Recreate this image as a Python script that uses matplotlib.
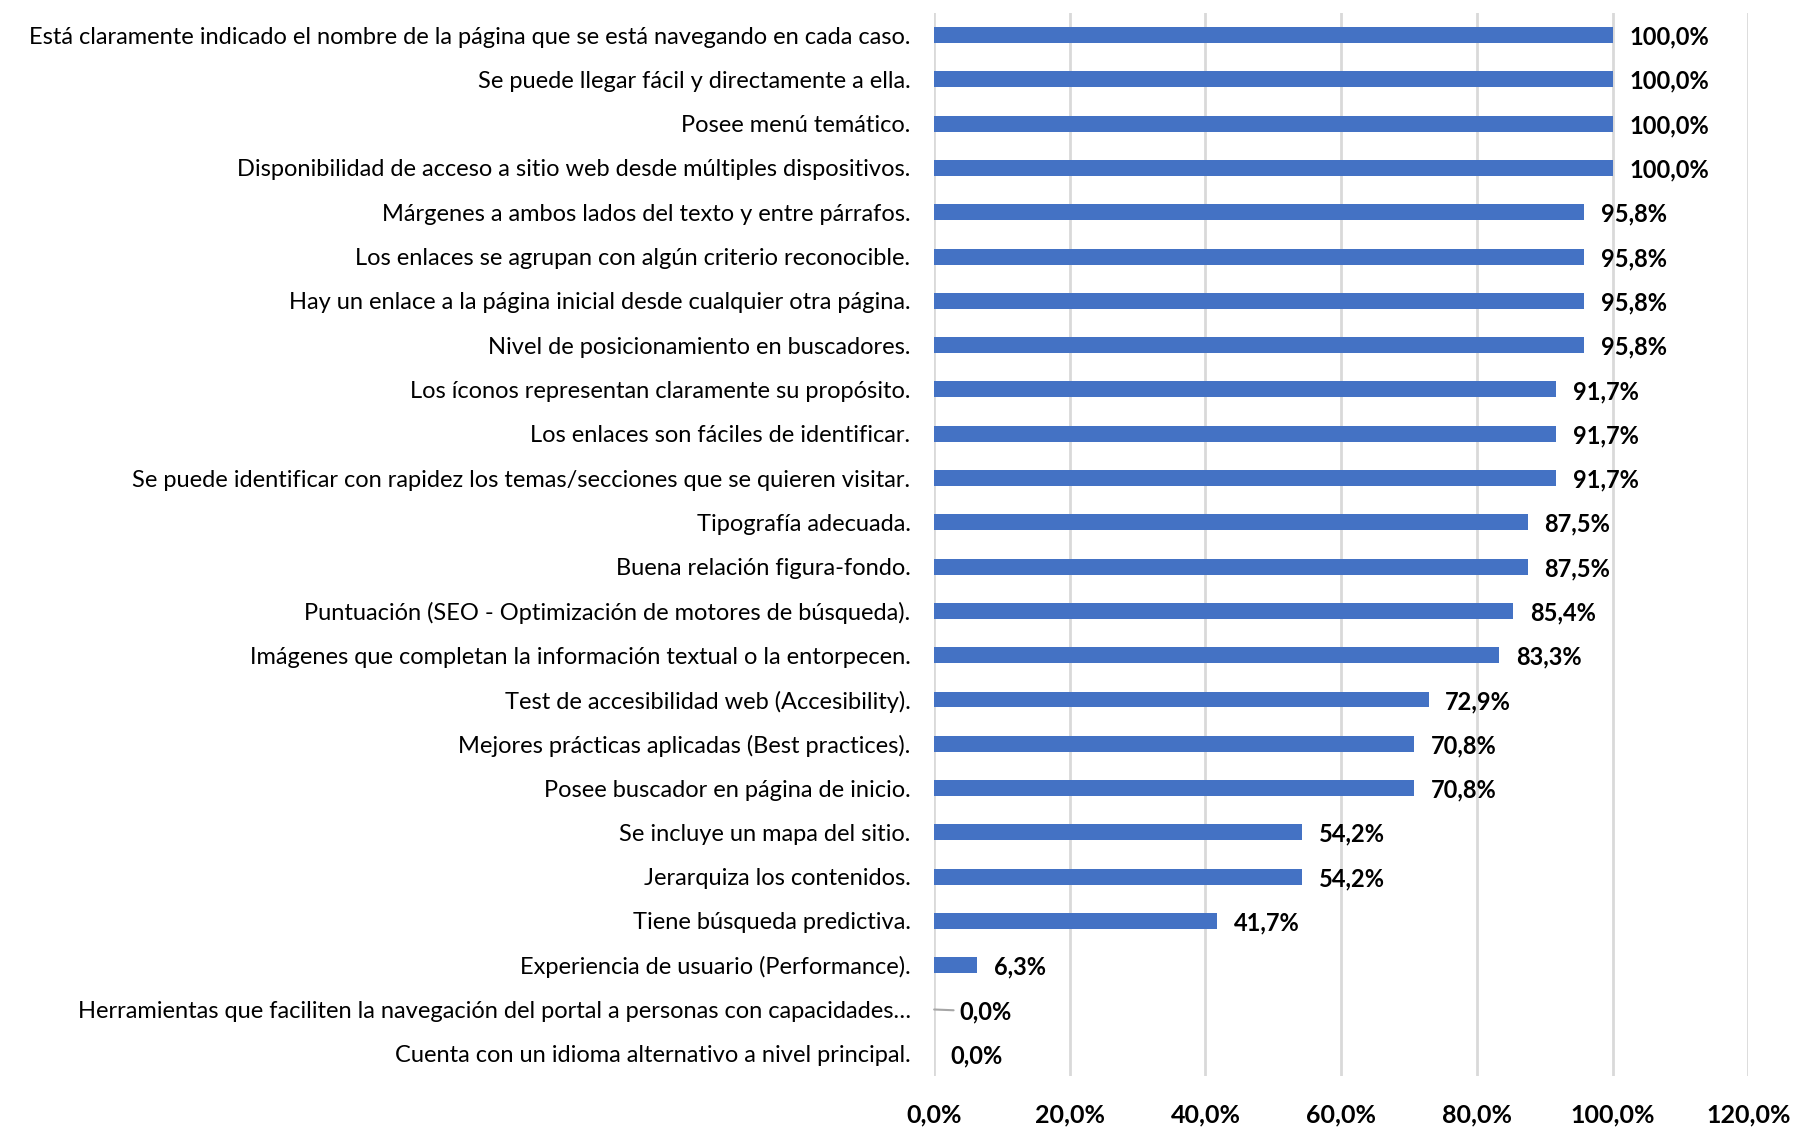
import numpy as np
import matplotlib.pyplot as plt
from matplotlib.ticker import FuncFormatter

# criteria evaluated, top to bottom
criterios = [
    "Está claramente indicado el nombre de la página que se está navegando en cada caso.",
    "Se puede llegar fácil y directamente a ella.",
    "Posee menú temático.",
    "Disponibilidad de acceso a sitio web desde múltiples dispositivos.",
    "Márgenes a ambos lados del texto y entre párrafos.",
    "Los enlaces se agrupan con algún criterio reconocible.",
    "Hay un enlace a la página inicial desde cualquier otra página.",
    "Nivel de posicionamiento en buscadores.",
    "Los íconos representan claramente su propósito.",
    "Los enlaces son fáciles de identificar.",
    "Se puede identificar con rapidez los temas/secciones que se quieren visitar.",
    "Tipografía adecuada.",
    "Buena relación figura-fondo.",
    "Puntuación (SEO - Optimización de motores de búsqueda).",
    "Imágenes que completan la información textual o la entorpecen.",
    "Test de accesibilidad web (Accesibility).",
    "Mejores prácticas aplicadas (Best practices).",
    "Posee buscador en página de inicio.",
    "Se incluye un mapa del sitio.",
    "Jerarquiza los contenidos.",
    "Tiene búsqueda predictiva.",
    "Experiencia de usuario (Performance).",
    "Herramientas que faciliten la navegación del portal a personas con capacidades…",
    "Cuenta con un idioma alternativo a nivel principal.",
]
porcentajes = [100.0, 100.0, 100.0, 100.0, 95.8, 95.8, 95.8, 95.8, 91.7, 91.7, 91.7,
               87.5, 87.5, 85.4, 83.3, 72.9, 70.8, 70.8, 54.2, 54.2, 41.7, 6.3, 0.0, 0.0]
ticks = [0, 20, 40, 60, 80, 100, 120]

plt.rcParams['font.family'] = ['Lato', 'DejaVu Sans']

fig = plt.figure(figsize=(17.93, 11.29), dpi=100)
ax = fig.add_axes([0.521, 0.047, 0.454, 0.9415])

y = np.arange(len(criterios))
ax.barh(y, porcentajes, height=0.36, color='#4472C4', zorder=3)

def coma(v):
    return f"{v:.1f}".replace('.', ',') + '%'

for i, v in enumerate(porcentajes):
    if v == 0 and i == len(criterios) - 2:
        # label pushed right, with a short leader back to the bar
        ax.annotate(coma(v), xy=(v, i), xytext=(18, 0), textcoords='offset points',
                    va='center_baseline', ha='left', fontsize=17, fontweight='bold',
                    arrowprops=dict(arrowstyle='-', color='#A6A6A6', lw=1.5,
                                    shrinkA=2, shrinkB=0))
    else:
        ax.annotate(coma(v), xy=(v, i), xytext=(12, 0), textcoords='offset points',
                    va='center_baseline', ha='left', fontsize=17, fontweight='bold')

ax.set_xlim(0, 120)
ax.set_ylim(len(criterios) - 0.5, -0.5)
ax.set_xticks(ticks)
ax.xaxis.set_major_formatter(FuncFormatter(lambda v, p: coma(v)))
ax.set_yticks(y)
ax.set_yticklabels(criterios, fontsize=17)
ax.tick_params(axis='y', length=0, pad=17)
ax.tick_params(axis='x', length=0, pad=20, labelsize=18)
for lab in ax.get_xticklabels():
    lab.set_fontweight('bold')

ax.grid(axis='x', color='#D9D9D9', linewidth=2, zorder=0)
for s in ax.spines.values():
    s.set_visible(False)

plt.savefig('out.png', dpi=100)
